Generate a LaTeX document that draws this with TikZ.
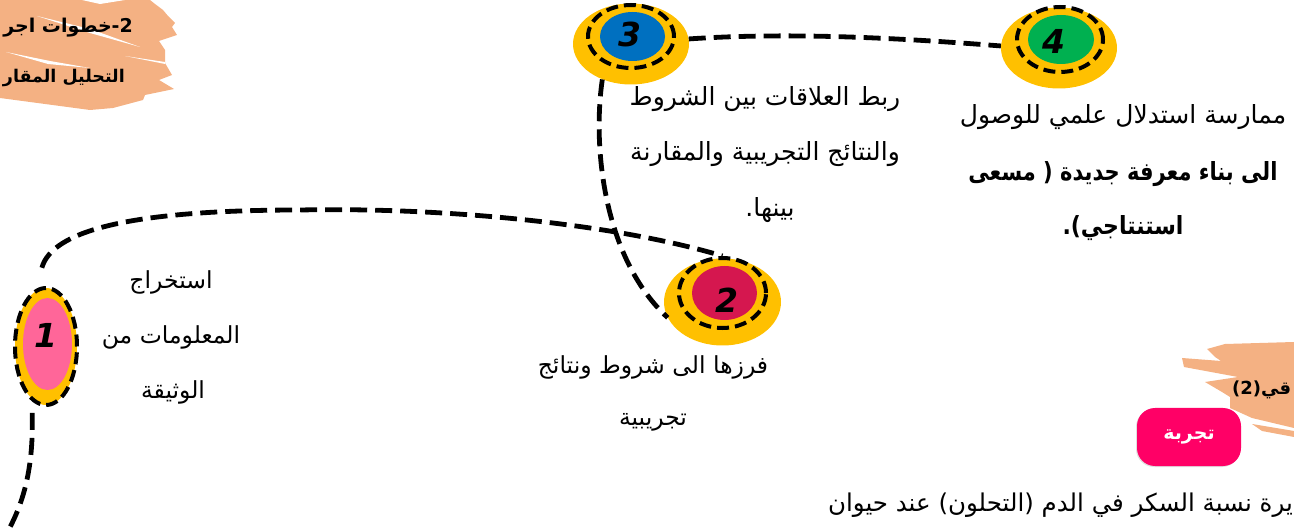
\documentclass[tikz,border=0pt]{standalone}
\usepackage{fontspec}
\usetikzlibrary{shapes.geometric,shadows}
\TeXXeTstate=1
\setmainfont{DejaVu Sans}
\newfontfamily\arabicfont[Script=Arabic]{DejaVu Sans}
\newcommand{\artxt}[1]{{\arabicfont\beginR #1\endR}}
\definecolor{brushc}{HTML}{F4B183}
\definecolor{goldc}{HTML}{FFC000}
\definecolor{pinkc}{HTML}{FF6699}
\definecolor{crimc}{HTML}{D5174F}
\definecolor{bluec}{HTML}{0070C0}
\definecolor{greenc}{HTML}{00B050}
\definecolor{btnc}{HTML}{FF0066}
\tikzset{
  goldell/.style={ellipse,fill=goldc,draw=none,inner sep=0pt},
  innerell/.style={ellipse,draw=none,inner sep=0pt},
  dashell/.style={ellipse,draw=black,line width=4pt,dash pattern=on 12pt off 6pt,inner sep=0pt},
  numlab/.style={font=\fontsize{33}{33}\selectfont\bfseries\itshape,text=black,inner sep=0pt},
  bodytxt/.style={font=\fontsize{25}{25}\selectfont,text=black,inner sep=0pt},
  midtxt/.style={font=\fontsize{23.5}{24}\selectfont,text=black,inner sep=0pt},
  boldtxt/.style={font=\fontsize{25}{25}\selectfont\bfseries,text=black,inner sep=0pt},
  conn/.style={draw=black,line width=4.8pt,dash pattern=on 17pt off 8pt},
  brushw/.style={fill=white,draw=none}
}
\begin{document}
\begin{tikzpicture}[x=1pt,y=-1pt]
\useasboundingbox (0,0) rectangle (1294,529);
\clip (0,0) rectangle (1294,529);
% brushes
\fill[brushc] (0,0) -- (150,0) -- (155,4) -- (163,10) -- (168,16) -- (175,23) -- (172,27) -- (177,35) -- (159,41) -- (165,50) -- (165,63) -- (172,75) -- (159,80) -- (174,89) -- (145,95) -- (143,100) -- (113,108) -- (90,110) -- (0,98) -- cycle;
\fill[brushw] (37,16) -- (90,29) -- (140,47) -- (90,33) -- cycle;
\fill[brushw] (6,52) -- (50,61) -- (90,68) -- (48,64) -- cycle;
\fill[brushw] (125,56) -- (165,62) -- (165,64) -- cycle;
\fill[brushw] (82,0) -- (125,0) -- (100,4) -- cycle;
\fill[brushc] (1294,342) -- (1225,344) -- (1207,349) -- (1215,357) -- (1221,361) -- (1182,358) -- (1184,367) -- (1238,377) -- (1205,382) -- (1222,392) -- (1230,397) -- (1230,408) -- (1252,418) -- (1294,428) -- cycle;
\fill[brushc] (1252,424) -- (1294,431) -- (1294,437) -- (1262,431) -- cycle;
% node 3
\node[goldell,minimum width=116pt,minimum height=81pt] (n3o) at (631,44) {};
\node[innerell,fill=bluec,minimum width=65pt,minimum height=49pt] (n3i) at (632.5,36.5) {};
\node[dashell,minimum width=86pt,minimum height=63pt] (n3d) at (631,36.5) {};
\node[numlab] (n3t) at (630,34) {3};
% node 4
\node[goldell,minimum width=116pt,minimum height=81pt] (n4o) at (1059,48) {};
\node[innerell,fill=greenc,minimum width=66pt,minimum height=49pt] (n4i) at (1061,39.5) {};
\node[dashell,minimum width=86pt,minimum height=65pt] (n4d) at (1060,39.5) {};
\node[numlab] (n4t) at (1054,41) {4};
% node 2
\node[goldell,minimum width=117pt,minimum height=87pt] (n2o) at (722.5,302) {};
\node[innerell,fill=crimc,minimum width=65pt,minimum height=54pt] (n2i) at (724.5,293) {};
\node[dashell,minimum width=87pt,minimum height=70pt] (n2d) at (722.5,293) {};
\node[numlab] (n2t) at (727,300) {2};
% node 1
\node[goldell,minimum width=62pt,minimum height=117pt] (n1o) at (46,346.5) {};
\node[innerell,fill=pinkc,minimum width=49pt,minimum height=92pt] (n1i) at (47.5,344) {};
\node[dashell,minimum width=62pt,minimum height=117pt] (n1d) at (46,346.5) {};
\node[numlab] (n1t) at (46,335) {1};
% connectors
\path[conn,shorten <=22pt] (n1d.100) .. controls (52,232) and (125,210) .. (300,210) .. controls (450,207) and (620,225) .. (n2d.north);
\path[conn] (n3o.231) .. controls (592,150) and (605,260) .. (n2o.196);
\path[conn] (n3o.5) .. controls (790,32) and (900,38) .. (n4o.178);
\coordinate (bottomend) at (9,529);
\path[conn,shorten <=14pt] (n1o.255) .. controls (33,450) and (30,490) .. (bottomend);
% labels
\node[midtxt] (t1a) at (171,282) {\artxt{استخراج}};
\node[midtxt] (t1b) at (171,337) {\artxt{المعلومات من}};
\node[midtxt] (t1c) at (173,392) {\artxt{الوثيقة}};
\node[midtxt] (t2a) at (653,367) {\artxt{فرزها الى شروط ونتائج}};
\node[midtxt] (t2b) at (653,422) {\artxt{تجريبية}};
\node[bodytxt] (t3a) at (765,99) {\artxt{ربط العلاقات بين الشروط}};
\node[bodytxt] (t3b) at (765,154) {\artxt{والنتائج التجريبية والمقارنة}};
\node[bodytxt] (t3c) at (770,210) {\artxt{بينها.}};
\node[bodytxt] (t4a) at (1123,117) {\artxt{ممارسة استدلال علمي للوصول}};
\node[boldtxt] (t4b) at (1123,174) {\scalebox{.84}[1]{\artxt{الى بناء معرفة جديدة ( مسعى}}};
\node[boldtxt] (t4c) at (1123,228) {\scalebox{.88}[1]{\artxt{استنتاجي).}}};
\node[boldtxt,anchor=east,font=\fontsize{19}{19}\selectfont\bfseries] (h1) at (133,28) {\artxt{\beginL 2\endL-خطوات اجر}};
\node[boldtxt,anchor=east,font=\fontsize{17.5}{18}\selectfont\bfseries] (h2) at (125,78) {\artxt{التحليل المقار}};
\node[boldtxt,anchor=west,font=\fontsize{18}{18}\selectfont\bfseries] (h3) at (1232,390) {\artxt{قي\beginL(2)\endL}};
\node[fill=btnc,rounded corners=18pt,minimum width=104pt,minimum height=58pt,inner sep=0pt,text=white,font=\fontsize{19}{19}\selectfont\bfseries,drop shadow={opacity=.25,shadow xshift=-1pt,shadow yshift=-1pt}] (btn) at (1189,437) {\artxt{تجربة}};
\node[bodytxt,anchor=east,font=\fontsize{24.5}{25}\selectfont] (t5) at (1293,505) {\artxt{يرة نسبة السكر في الدم (التحلون) عند حيوان}};
\end{tikzpicture}
\end{document}
